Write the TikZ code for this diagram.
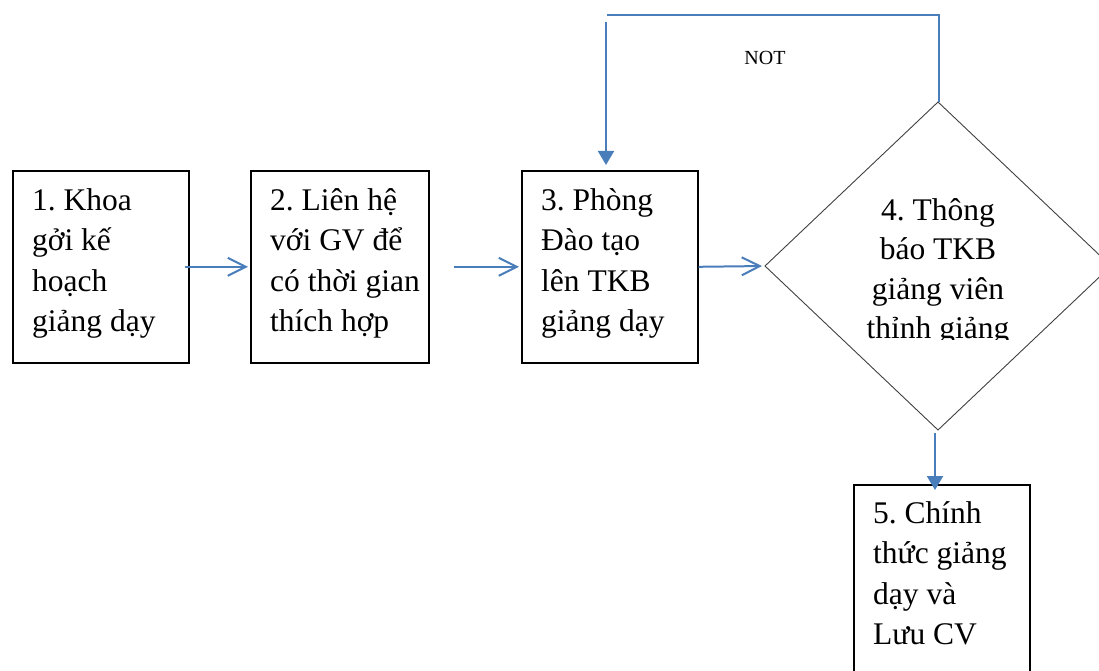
\documentclass[tikz,border=0pt]{standalone}
\usepackage{fontspec}
\setmainfont{Liberation Serif}
\usetikzlibrary{arrows.meta}
\definecolor{flow}{HTML}{4A7EBB}
\frenchspacing
\begin{document}
\begin{tikzpicture}[x=1pt,y=-1pt,
  stepbox/.style={draw=black, line width=1.6pt, minimum height=192pt,
    inner sep=0pt, anchor=north west},
  steptext/.style={font=\fontsize{31.5}{40.5}\selectfont, align=left,
    anchor=base west, inner sep=0pt},
  link/.style={draw=flow, line width=2pt},
  openhead/.style={link, -{Straight Barb[length=18pt,width=18pt]}},
  solidhead/.style={link, -{Triangle[length=14pt,width=16pt]}},
]
\useasboundingbox (0,0) rectangle (1099,671);
\clip (0,0) rectangle (1099,671);

% process boxes
\node[stepbox, minimum width=176pt] (b1) at (12,170) {};
\node[stepbox, minimum width=178pt] (b2) at (250,170) {};
\node[stepbox, minimum width=176pt] (b3) at (521,170) {};
\node[stepbox, minimum width=176pt, minimum height=205pt] (b5) at (853,484) {};

% step texts, placed by the baseline of their last line
\node[steptext] (t1) at (32,331.5) {1. Khoa\\gởi kế\\hoạch\\giảng dạy};
\node[steptext] (t2) at (270,331.5) {2. Liên hệ\\với GV để\\có thời gian\\thích hợp};
\node[steptext] (t3) at (541,331.5) {3. Phòng\\Đào tạo\\lên TKB\\giảng dạy};
\node[steptext] (t5) at (873,644.5) {5. Chính\\thức giảng\\dạy và\\Lưu CV};

% decision
\coordinate (dtop) at (938,102);
\coordinate (dleft) at (765,266);
\coordinate (dbottom) at (938,430);
\coordinate (dright) at (1111,266);
\draw[draw=black!75, line width=0.9pt] (dtop) -- (dright) -- (dbottom) -- (dleft) -- cycle;
\begin{scope}
  \clip (820,150) rectangle (1060,339);
  \node[font=\fontsize{31.5}{39.5}\selectfont, align=center, anchor=base,
    inner sep=0pt] (t4) at (938,338.5) {4. Thông\\báo TKB\\giảng viên\\thỉnh giảng};
\end{scope}

% forward flow
\draw[openhead, shorten >=2pt] ([xshift=-5pt]b1.east) -- (b2.west);
\draw[openhead, shorten >=2pt] ([xshift=24pt]b2.east) -- (b3.west);
\draw[openhead, shorten >=3pt] (b3.east) -- (dleft);

% return loop
\coordinate (loopR) at (939,15.5);
\coordinate (loopL) at (607,15.5);
\coordinate (loopD) at (606,22);
\draw[link] (dtop -| loopR) -- (loopR) -- (loopL);
\draw[solidhead, shorten >=5pt] (loopD) -- (loopD |- b3.north);
\node[font=\fontsize{20}{24}\selectfont, inner sep=0pt] (not) at (765,58) {NOT};

% to final step
\coordinate (down) at (935,433);
\draw[solidhead, shorten >=-6pt] (down) -- (down |- b5.north);
\end{tikzpicture}
\end{document}
